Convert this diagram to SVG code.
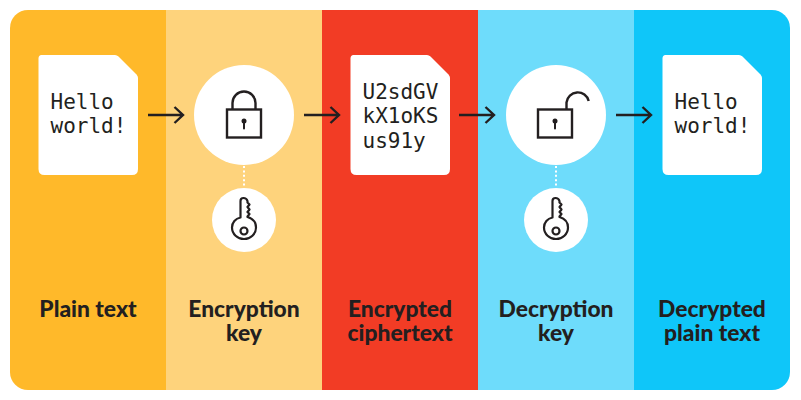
<svg xmlns="http://www.w3.org/2000/svg" width="801" height="400" viewBox="0 0 801 400">
<style>
.mono{font-family:"DejaVu Sans Mono","Liberation Mono",monospace;font-size:21px;fill:#231f20}
.lab{font-family:Lato,"Liberation Sans",sans-serif;font-size:22.800px;font-weight:900;fill:#231f20;text-anchor:middle}
.ln{fill:none;stroke:#231f20;stroke-width:2.400}
.thin{fill:none;stroke:#231f20;stroke-width:2.200}
.dot{fill:none;stroke:#fff;stroke-width:2;stroke-dasharray:2 2.400}
.doc{fill:#fff}
</style>
<defs>
<path id="doc" d="M3.500 0H77Q79 0 80.500 1.500L98.500 19.500Q100 21 100 23V114Q100 120 94 120H6.500Q0.500 120 0.500 114V3.500Q0.500 0 3.500 0Z"/>
<g id="key" class="thin" stroke-linejoin="round" stroke-linecap="round">
<path d="M-3.500 -10V-26.500Q-3.500 -29.500 -0.500 -29.500Q2.500 -29.500 3.500 -26.500V-25L5.500 -23L3.500 -20.500L5.500 -18L3.500 -15.500L5.500 -13.500L3.500 -11V-10.500C8.500 -9 12 -5 12 0C12 6.500 6.500 11.500 0 11.500C-6.500 11.500 -12 6.500 -12 0C-12 -5 -8.500 -9 -3.500 -10Z"/>
<circle cx="0" cy="3.500" r="3.500"/>
</g>
<g id="body">
<rect class="ln" x="-17" y="-3.500" width="34" height="28"/>
<circle cx="0" cy="8" r="2.500" fill="#231f20"/>
<path d="M0 8.500V15.500" stroke="#231f20" stroke-width="2" stroke-linecap="round"/>
</g>
<path id="arr" class="ln" d="M0 0H35M26.500 -8L35 0L26.500 8"/>
</defs>
<g id="panels">
<path d="M166 10H28A18 18 0 0 0 10 28V372A18 18 0 0 0 28 390H166Z" fill="#ffb92a"/>
<rect x="166" y="10" width="156" height="380" fill="#fed37c"/>
<rect x="322" y="10" width="156" height="380" fill="#f23c25"/>
<rect x="478" y="10" width="156" height="380" fill="#6edcfb"/>
<path d="M634 10H772A18 18 0 0 1 790 28V372A18 18 0 0 1 772 390H634Z" fill="#0fc6f9"/>
</g>
<g id="connectors">
<use href="#arr" x="148" y="115"/>
<use href="#arr" x="304" y="115"/>
<use href="#arr" x="459" y="115"/>
<use href="#arr" x="616" y="115"/>
<path class="dot" d="M244 166V188"/>
<path class="dot" d="M556 166V188"/>
</g>
<g id="plain-text">
<use href="#doc" class="doc" x="38" y="55"/>
<text class="mono"><tspan x="50.500" y="109">Hello</tspan><tspan x="50.500" y="133">world!</tspan></text>
<text class="lab" x="88" y="317">Plain text</text>
</g>
<g id="encryption-key">
<circle cx="244" cy="115" r="50" fill="#fff"/>
<use href="#body" x="244" y="113"/>
<path class="ln" d="M232.500 109V103A11.500 11.500 0 0 1 255.500 103V109"/>
<circle cx="244" cy="220" r="32" fill="#fff"/>
<use href="#key" x="244" y="227.500"/>
<text class="lab"><tspan x="244" y="317">Encryption</tspan><tspan x="244" y="341">key</tspan></text>
</g>
<g id="ciphertext">
<use href="#doc" class="doc" x="350" y="55"/>
<text class="mono"><tspan x="362.500" y="99">U2sdGV</tspan><tspan x="362.500" y="123">kX1oKS</tspan><tspan x="362.500" y="148">us91y</tspan></text>
<text class="lab"><tspan x="400" y="317">Encrypted</tspan><tspan x="400" y="341">ciphertext</tspan></text>
</g>
<g id="decryption-key">
<circle cx="556" cy="115" r="50" fill="#fff"/>
<use href="#body" x="555" y="113"/>
<path class="ln" d="M566.500 109V102.500A11.300 11.300 0 0 1 588.700 101"/>
<circle cx="556" cy="220" r="32" fill="#fff"/>
<use href="#key" x="556" y="227.500"/>
<text class="lab"><tspan x="556" y="317">Decryption</tspan><tspan x="556" y="341">key</tspan></text>
</g>
<g id="decrypted">
<use href="#doc" class="doc" x="662" y="55"/>
<text class="mono"><tspan x="674.500" y="109">Hello</tspan><tspan x="674.500" y="133">world!</tspan></text>
<text class="lab"><tspan x="712" y="317">Decrypted</tspan><tspan x="712" y="341">plain text</tspan></text>
</g>
</svg>
